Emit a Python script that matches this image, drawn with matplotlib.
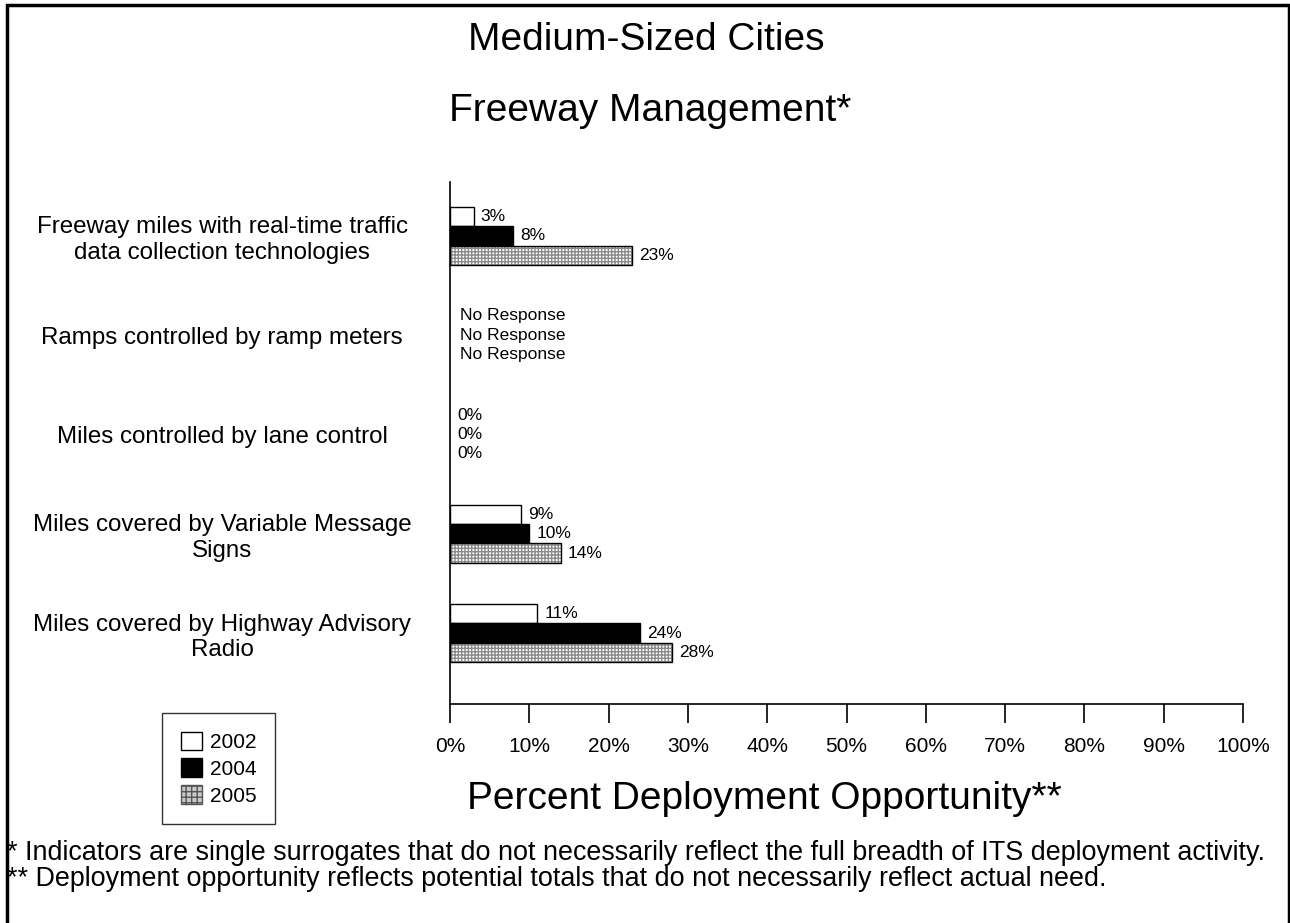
import numpy as np
import matplotlib.pyplot as plt
from matplotlib.patches import Patch, Rectangle

plt.rcParams['font.family'] = ['Liberation Sans', 'DejaVu Sans']

categories = [
    "Freeway miles with real-time traffic\ndata collection technologies",
    "Ramps controlled by ramp meters",
    "Miles controlled by lane control",
    "Miles covered by Variable Message\nSigns",
    "Miles covered by Highway Advisory\nRadio",
]
years = ["2002", "2004", "2005"]
# None = no response for that indicator
pct_2002 = [3, None, 0, 9, 11]
pct_2004 = [8, None, 0, 10, 24]
pct_2005 = [23, None, 0, 14, 28]
xticks = list(range(0, 101, 10))

W, H = 1290, 923
fig = plt.figure(figsize=(W / 100, H / 100), dpi=100)
ax = fig.add_axes([450 / W, 1 - 704 / H, 793 / W, 522 / H])

y = np.arange(len(categories))
bh = 0.196
offsets = [-bh, 0, bh]
series = [pct_2002, pct_2004, pct_2005]

for vals, off, yr in zip(series, offsets, years):
    for i, v in enumerate(vals):
        yy = y[i] + off
        if v is None:
            ax.annotate("No Response", (0, yy), xytext=(7, 0), textcoords="offset points",
                        va="center", ha="left", fontsize=12.5)
            continue
        if v > 0:
            if yr == "2002":
                ax.barh(yy, v, height=bh, color="white", edgecolor="black", lw=1)
            elif yr == "2004":
                ax.barh(yy, v, height=bh, color="black", edgecolor="black", lw=1)
            else:
                ax.barh(yy, v, height=bh, color="white", edgecolor="#8a8a8a", lw=0,
                        hatch="+++++")
                ax.barh(yy, v, height=bh, color="none", edgecolor="black", lw=1)
        ax.annotate(f"{v}%", (v, yy), xytext=(5, 0), textcoords="offset points",
                    va="center", ha="left", fontsize=12.5)

ax.set_xlim(0, 100)
ax.set_ylim(4.715, -0.544)
ax.set_xticks(xticks)
ax.set_xticklabels([f"{t}%" for t in xticks], fontsize=15)
ax.set_yticks(y)
ax.set_yticklabels(categories, fontsize=17.4, ha="center", ma="center")
ax.tick_params(axis="y", length=0, pad=164)
ax.tick_params(axis="x", direction="out", length=14, width=1.2, pad=10)
for s in ["top", "right"]:
    ax.spines[s].set_visible(False)
for s in ["left", "bottom"]:
    ax.spines[s].set_linewidth(1.2)

fig.text(646 / W, 1 - 50 / H, "Medium-Sized Cities", ha="center", va="baseline", fontsize=28)
fig.text(650 / W, 1 - 121 / H, "Freeway Management*", ha="center", va="baseline", fontsize=28)
fig.text(467 / W, 1 - 809 / H, "Percent Deployment Opportunity**", ha="left", va="baseline",
         fontsize=28)
fig.text(7 / W, 1 - 853 / H,
         "* Indicators are single surrogates that do not necessarily reflect the full breadth of ITS deployment activity.",
         ha="left", va="center", fontsize=19.4)
fig.text(7 / W, 1 - 879 / H,
         "** Deployment opportunity reflects potential totals that do not necessarily reflect actual need.",
         ha="left", va="center", fontsize=19.4)

handles = [
    Patch(facecolor="white", edgecolor="black", label="2002"),
    Patch(facecolor="black", edgecolor="black", label="2004"),
    Patch(facecolor="#c8c8c8", edgecolor="#555555", hatch="+++", label="2005"),
]
leg = fig.legend(handles=handles, loc="upper left", bbox_to_anchor=(162 / W, 1 - 713 / H),
                 fontsize=15, frameon=True, fancybox=False, handlelength=1.0,
                 handleheight=1.0, handletextpad=0.4, borderpad=0.9, labelspacing=0.3,
                 borderaxespad=0)
leg.get_frame().set_edgecolor("black")
leg.get_frame().set_linewidth(1)

# outer frame around the whole figure
fig.add_artist(Rectangle((7 / W, -0.01), (1289 - 7) / W, 1.01 - 5 / H, transform=fig.transFigure,
                         fill=False, edgecolor="black", lw=2.5))

fig.savefig("out.png", dpi=100)
